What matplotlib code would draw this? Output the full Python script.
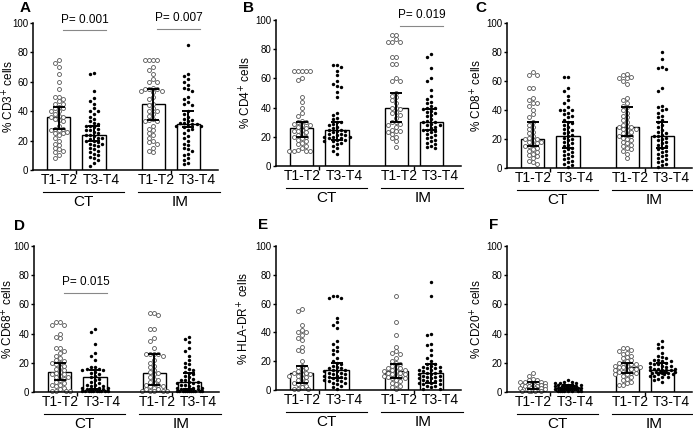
import matplotlib
matplotlib.use("Agg")
import matplotlib.pyplot as plt
import numpy as np

plt.rcParams['font.family'] = ['Liberation Sans', 'DejaVu Sans']

# %% data (percent positive cells per patient)
stage_labels = ["T1-T2", "T3-T4", "T1-T2", "T3-T4"]
site_labels = ["CT", "IM"]

# A - CD3
cd3_ct_early = [75, 73, 70, 65, 60, 55, 50, 50, 48, 47, 45, 45, 43, 42, 42, 40, 40, 38, 37, 36, 36, 35,
                34, 33, 30, 28, 28, 27, 27, 26, 25, 25, 24, 22, 20, 18, 17, 15, 14, 13, 12, 10, 8]
cd3_ct_late = [66, 65, 54, 49, 47, 45, 42, 40, 40, 38, 36, 35, 33, 32, 31, 30, 30, 29, 28, 27, 27, 26,
               25, 24, 24, 23, 22, 22, 21, 20, 20, 19, 18, 18, 17, 16, 15, 14, 13, 12, 11, 10, 9, 8, 7, 5, 3]
cd3_im_early = [75, 75, 75, 75, 70, 68, 65, 62, 60, 60, 56, 55, 55, 55, 54, 54, 53, 50, 48, 45, 44, 42,
                40, 40, 38, 37, 35, 34, 33, 33, 30, 28, 27, 25, 24, 22, 20, 19, 18, 15, 13, 12]
cd3_im_late = [85, 65, 64, 62, 60, 58, 56, 55, 54, 50, 48, 46, 45, 44, 40, 38, 36, 35, 34, 33, 32, 32,
               31, 31, 30, 30, 30, 29, 28, 27, 25, 23, 22, 20, 18, 17, 15, 14, 13, 11, 10, 8, 7, 5, 4]
cd3_median = [36, 24, 45, 31]
cd3_low = [28, 20, 34, 29]
cd3_high = [43, 30, 55, 40]
cd3_pvals = ["0.001", "0.007"]

# B - CD4
cd4_ct_early = [65, 65, 65, 65, 65, 60, 59, 47, 44, 40, 36, 34, 31, 30, 30, 29, 28, 28, 27, 26, 25, 24,
                24, 23, 22, 21, 20, 20, 19, 18, 17, 16, 15, 14, 12, 11, 10, 10, 10, 10]
cd4_ct_late = [69, 69, 68, 65, 62, 58, 56, 55, 54, 51, 47, 36, 35, 33, 32, 30, 30, 29, 28, 27, 26, 25,
               25, 24, 24, 23, 22, 22, 21, 21, 20, 20, 20, 19, 19, 18, 18, 17, 17, 16, 15, 14, 12, 10, 8]
cd4_im_early = [90, 90, 87, 85, 85, 85, 75, 75, 70, 70, 60, 58, 58, 50, 48, 47, 45, 43, 40, 40, 39, 37,
                36, 35, 33, 30, 30, 29, 28, 27, 25, 24, 24, 23, 22, 20, 19, 17, 13]
cd4_im_late = [77, 75, 67, 60, 58, 52, 48, 46, 44, 43, 41, 40, 40, 39, 38, 37, 36, 35, 34, 32, 31, 30,
               30, 29, 28, 28, 27, 26, 25, 25, 24, 23, 22, 21, 20, 19, 18, 17, 16, 15, 14, 13, 12]
cd4_median = [26, 25, 40, 30]
cd4_low = [20, 18, 30, 25]
cd4_high = [30, 30, 50, 39]
cd4_pvals = [None, "0.019"]

# C - CD8
cd8_ct_early = [66, 64, 64, 55, 55, 48, 47, 45, 45, 43, 40, 37, 35, 32, 30, 28, 27, 25, 24, 22, 21, 20,
                20, 19, 18, 18, 17, 16, 15, 15, 14, 13, 12, 11, 10, 9, 8, 7, 5, 4, 3]
cd8_ct_late = [63, 63, 55, 53, 50, 47, 45, 42, 40, 40, 40, 38, 37, 36, 35, 33, 32, 31, 30, 28, 27, 26,
               25, 24, 23, 22, 21, 20, 19, 18, 17, 16, 15, 14, 13, 12, 11, 10, 9, 8, 7, 6, 5, 4, 3, 2, 1]
cd8_im_early = [65, 64, 63, 62, 62, 60, 58, 48, 47, 45, 43, 42, 40, 38, 36, 35, 33, 32, 30, 29, 28, 28,
                27, 27, 26, 25, 24, 23, 22, 22, 21, 20, 19, 18, 17, 16, 15, 14, 13, 12, 10, 7]
cd8_im_late = [80, 75, 70, 69, 68, 55, 53, 43, 42, 41, 40, 38, 36, 35, 33, 32, 30, 28, 26, 25, 24, 23,
               22, 22, 21, 20, 19, 18, 17, 16, 15, 14, 13, 12, 11, 10, 9, 8, 7, 6, 5, 4, 3, 2, 1]
cd8_median = [20, 22, 28, 22]
cd8_low = [15, 14, 22, 14]
cd8_high = [32, 32, 42, 32]
cd8_pvals = [None, None]

# D - CD68
cd68_ct_early = [48, 48, 46, 46, 40, 38, 37, 30, 30, 28, 27, 25, 23, 22, 21, 20, 20, 19, 18, 17, 16, 15,
                 14, 13, 12, 12, 11, 10, 10, 9, 8, 7, 6, 5, 5, 4, 3, 2, 1, 1, 0.5, 0.5]
cd68_ct_late = [43, 41, 33, 27, 25, 22, 17, 17, 16, 16, 15, 15, 14, 13, 12, 11, 10, 9, 8, 7, 6, 5, 5,
                4, 4, 3, 3, 3, 2, 2, 2, 2, 1, 1, 1, 1, 1, 0.5, 0.5, 0.5, 0.5, 0.5]
cd68_im_early = [54, 54, 53, 43, 43, 37, 35, 30, 26, 26, 26, 26, 25, 22, 20, 18, 17, 15, 14, 13, 12, 10,
                 9, 8, 7, 6, 5, 5, 4, 4, 3, 2, 2, 1, 1, 1, 0.5, 0.5]
cd68_im_late = [38, 36, 34, 30, 28, 25, 22, 20, 19, 17, 16, 15, 14, 13, 12, 11, 10, 9, 8, 8, 7, 7, 6, 6,
                5, 5, 4, 4, 3, 3, 3, 2, 2, 2, 2, 1, 1, 1, 1, 1, 0.5, 0.5, 0.5, 0.5, 0.5, 0.5]
cd68_median = [14, 10, 13, 7]
cd68_low = [8, 2, 5, 2]
cd68_high = [20, 15, 26, 13]
cd68_pvals = ["0.015", None]

# E - HLA-DR
hla_ct_early = [56, 55, 45, 42, 40, 40, 38, 36, 35, 30, 28, 27, 20, 17, 16, 15, 14, 13, 12, 12, 11, 11,
                10, 10, 9, 8, 7, 6, 5, 5, 4, 3, 2, 1, 0.5, 0.5]
hla_ct_late = [65, 65, 64, 64, 50, 47, 45, 43, 34, 32, 30, 28, 27, 25, 22, 20, 19, 18, 17, 16, 15, 15, 14,
               14, 13, 13, 12, 12, 11, 11, 10, 10, 9, 9, 8, 8, 7, 7, 6, 6, 5, 5, 4, 3, 2, 1]
hla_im_early = [65, 47, 38, 30, 27, 26, 25, 22, 20, 19, 18, 17, 16, 15, 15, 14, 14, 13, 13, 12, 12, 11,
                11, 10, 10, 9, 9, 8, 8, 7, 6, 5, 4, 3, 2, 1]
hla_im_late = [75, 65, 39, 38, 32, 31, 28, 24, 22, 20, 18, 18, 17, 16, 16, 15, 15, 14, 14, 13, 13, 12, 12,
               11, 11, 10, 10, 9, 9, 8, 8, 7, 7, 6, 6, 5, 5, 4, 4, 3, 3, 2, 1, 1]
hla_median = [12, 14, 13, 12]
hla_low = [5, 8, 8, 5]
hla_high = [17, 19, 18, 18]
hla_pvals = [None, None]

# F - CD20
cd20_ct_early = [13, 11, 9, 8, 8, 7, 7, 7, 6, 6, 6, 6, 5, 5, 5, 5, 5, 4, 4, 4, 4, 4, 3, 3, 3, 3, 2, 2,
                 2, 2, 1, 1, 1, 0.5, 0.5]
cd20_ct_late = [8, 7, 7, 6, 6, 6, 5, 5, 5, 5, 5, 4, 4, 4, 4, 4, 4, 3, 3, 3, 3, 3, 3, 3, 2, 2, 2, 2, 2,
                2, 2, 1, 1, 1, 1, 1, 0.5, 0.5, 0.5]
cd20_im_early = [30, 30, 29, 28, 27, 26, 25, 24, 23, 22, 21, 20, 20, 19, 19, 18, 18, 17, 17, 17, 16, 16,
                 15, 15, 14, 14, 13, 13, 12, 12, 11, 10, 9, 8, 7, 6, 5, 5]
cd20_im_late = [35, 33, 31, 30, 27, 25, 24, 23, 22, 22, 21, 21, 20, 20, 19, 19, 18, 18, 17, 17, 16, 16, 16,
                15, 15, 15, 15, 14, 14, 14, 14, 13, 13, 13, 12, 12, 12, 11, 11, 10, 10, 9, 8, 7]
cd20_median = [5, 3, 17, 15]
cd20_low = [2, 2, 13, 13]
cd20_high = [7, 5, 20, 20]
cd20_pvals = [None, None]

panels = [
    ("A", "CD3", [cd3_ct_early, cd3_ct_late, cd3_im_early, cd3_im_late], cd3_median, cd3_low, cd3_high, cd3_pvals),
    ("B", "CD4", [cd4_ct_early, cd4_ct_late, cd4_im_early, cd4_im_late], cd4_median, cd4_low, cd4_high, cd4_pvals),
    ("C", "CD8", [cd8_ct_early, cd8_ct_late, cd8_im_early, cd8_im_late], cd8_median, cd8_low, cd8_high, cd8_pvals),
    ("D", "CD68", [cd68_ct_early, cd68_ct_late, cd68_im_early, cd68_im_late], cd68_median, cd68_low, cd68_high, cd68_pvals),
    ("E", "HLA-DR", [hla_ct_early, hla_ct_late, hla_im_early, hla_im_late], hla_median, hla_low, hla_high, hla_pvals),
    ("F", "CD20", [cd20_ct_early, cd20_ct_late, cd20_im_early, cd20_im_late], cd20_median, cd20_low, cd20_high, cd20_pvals),
]

# %% layout (pixels in a 693x434 canvas)
W, H = 693, 434
axes_px = [(33, 23, 170), (276, 20, 166), (507, 23, 168),
           (34, 246, 392), (276, 246, 390), (507, 246, 392)]  # left, top(100), bottom(0)
letter_px = [(20, 8), (243, 8), (475, 8), (14, 226), (258, 225), (489, 225)]
ylabel_off = [24, 30, 30, 26, 32, 30]  # pixels left of the y axis
ax_w = 185
xpos = np.array([1.0, 2.0, 3.69, 4.69])
xlim = (0.26, 5.54)
label_x = [1.0, 2.2, 3.78, 4.95]
bar_w = 0.66


def swarm(vals, xc, px_x, px_y, d=3.8, max_off=13.0):
    # simple beeswarm: nudge each point sideways until it does not overlap,
    # but never wider than max_off pixels (then the least crowded slot wins)
    placed = []
    xs, ys = [], []
    step = d * 0.55
    offs = [0.0]
    k = 1
    while k * step <= max_off:
        offs += [-k * step, k * step]
        k += 1
    for v in sorted(vals, reverse=True):
        y = v * px_y
        best, best_gap = 0.0, -1.0
        for off in offs:
            gap = min([np.hypot(off - px, y - py) for px, py in placed] + [99.0])
            if gap >= d:
                best = off
                break
            if gap > best_gap:
                best, best_gap = off, gap
        placed.append((best, y))
        xs.append(xc + best / px_x)
        ys.append(v)
    return xs, ys


fig = plt.figure(figsize=(W / 100, H / 100), dpi=100)

for (letter, marker_name, groups, med, lo, hi, pvals), (left, top, bottom), (lx, ly), yoff in zip(
        panels, axes_px, letter_px, ylabel_off):
    ax = fig.add_axes([left / W, (H - bottom) / H, ax_w / W, (bottom - top) / H])
    px_x = ax_w / (xlim[1] - xlim[0])
    px_y = (bottom - top) / 100.0

    ax.bar(xpos, med, width=bar_w, color="white", edgecolor="black", linewidth=1.0, zorder=1)
    for i, vals in enumerate(groups):
        xs, ys = swarm(vals, xpos[i], px_x, px_y)
        if i % 2 == 0:
            ax.scatter(xs, ys, s=8, facecolors="white", edgecolors="#555555", linewidths=0.6, zorder=2,
                       clip_on=False)
        else:
            ax.scatter(xs, ys, s=6, color="black", linewidths=0, zorder=2, clip_on=False)
    med_a = np.array(med, float)
    ax.errorbar(xpos, med_a, yerr=[med_a - np.array(lo), np.array(hi) - med_a], fmt="none",
                ecolor="black", elinewidth=1.4, capsize=4.5, capthick=1.4, zorder=3)

    ax.set_xlim(*xlim)
    ax.set_ylim(0, 100)
    ax.set_yticks([0, 20, 40, 60, 80, 100])
    ax.tick_params(axis="y", labelsize=7, length=2.5, width=1, pad=1)
    ax.set_xticks([1.5, 4.19])
    ax.set_xticklabels([])
    ax.tick_params(axis="x", length=3, width=1)
    for s in ["top", "right"]:
        ax.spines[s].set_visible(False)
    for s in ["left", "bottom"]:
        ax.spines[s].set_linewidth(1.1)
    ax.set_ylabel("% " + marker_name + "$^{+}$ cells", fontsize=8.5, va="center")
    ax.yaxis.set_label_coords(-yoff / ax_w, 0.5)

    # stage labels and site brackets under the axis
    tr = ax.get_xaxis_transform()
    hpx = bottom - top
    for x, lab in zip(label_x, stage_labels):
        ax.text(x, -10 / hpx, lab, transform=tr, ha="center", va="center", fontsize=10,
                clip_on=False)
    for (x0, x1, xc), site in zip([(0.55, 2.85, 1.7), (3.25, 5.6, 4.45)], site_labels):
        ax.plot([x0, x1], [-22 / hpx] * 2, transform=tr, color="black", lw=0.8, clip_on=False)
        ax.text(xc, -32 / hpx, site, transform=tr, ha="center", va="center", fontsize=11,
                clip_on=False)

    # p-value brackets
    for g, p in enumerate(pvals):
        if p is None:
            continue
        x0 = xpos[2 * g] + 0.12
        x1 = xpos[2 * g + 1] + 0.35
        ytop = max(hi[2 * g], hi[2 * g + 1], max(groups[2 * g]), max(groups[2 * g + 1]))
        yl = 96 if ytop > 80 else ytop + 20
        ax.plot([x0, x1], [yl, yl], color="#888888", lw=0.8, clip_on=False)
        ax.text((x0 + x1) / 2, yl + 3, "P= " + p, ha="center", va="bottom", fontsize=8.5, clip_on=False)

    fig.text(lx / W, 1 - ly / H, letter, fontsize=11, fontweight="bold", ha="left", va="center")

fig.savefig("out.png", dpi=100)
